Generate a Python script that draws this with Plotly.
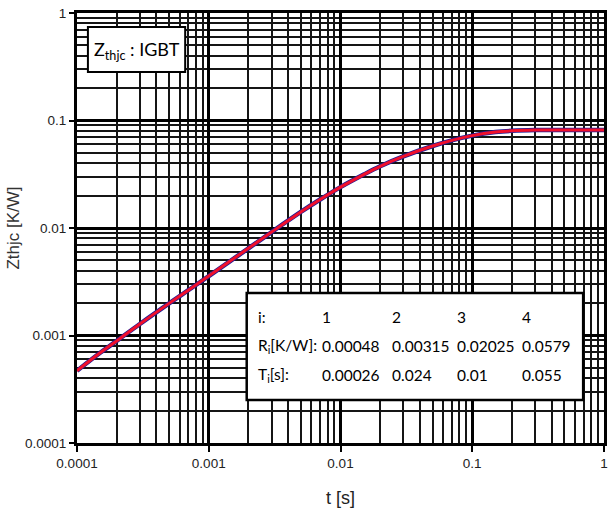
import plotly.graph_objects as go

# ---- data ----
t_s = [1e-4, 1.5e-4, 2e-4, 3e-4, 5e-4, 7e-4, 1e-3, 1.5e-3, 2e-3, 3e-3, 5e-3, 7e-3,
       1e-2, 1.5e-2, 2e-2, 3e-2, 5e-2, 7e-2, 0.1, 0.15, 0.2, 0.3, 0.5, 1.0]
zthjc = [0.00047, 0.00069, 0.00089, 0.00128, 0.00199, 0.00264, 0.00357, 0.00506,
         0.00647, 0.00917, 0.0141, 0.0184, 0.0240, 0.0314, 0.0375, 0.0463, 0.0579,
         0.0654, 0.0723, 0.0780, 0.0802, 0.0815, 0.0817, 0.0818]

x_tickvals = [0.0001, 0.001, 0.01, 0.1, 1]
x_ticktext = ["0.0001", "0.001", "0.01", "0.1", "1"]
y_tickvals = [0.0001, 0.001, 0.01, 0.1, 1]
y_ticktext = ["0.0001", "0.001", "0.01", "0.1", "1"]

table_index = ["1", "2", "3", "4"]
table_R = ["0.00048", "0.00315", "0.02025", "0.0579"]
table_T = ["0.00026", "0.024", "0.01", "0.055"]
row_labels = ["i:", "R<sub>i</sub>[K/W]:", "T<sub>i</sub>[s]:"]
title_label = "Z<sub>thjc</sub> : IGBT"

# ---- layout geometry (pixels) ----
W, H = 613, 513
L, R, T, B = 77, 5, 13, 70
PW, PH = W - L - R, H - T - B


def px(x):
    return (x - L) / PW


def py(y):
    return (H - B - y) / PH


TICKF = "Liberation Sans, Arial"
TABLE_FONT = "Lato, Liberation Sans"

fig = go.Figure()
fig.add_trace(go.Scatter(x=t_s, y=zthjc, mode="lines", line=dict(color="#1c1c96", width=4.5, shape="spline"),
                         hoverinfo="skip", showlegend=False))
fig.add_trace(go.Scatter(x=t_s, y=zthjc, mode="lines", line=dict(color="#f0102c", width=3, shape="spline"),
                         showlegend=False))

axis_common = dict(
    type="log",
    showline=True, linecolor="black", linewidth=3, mirror=True,
    showgrid=True, gridcolor="black", gridwidth=2.6,
    minor=dict(showgrid=True, gridcolor="#151515", gridwidth=1.6, dtick="D1", ticks=""),
    zeroline=False,
    tickfont=dict(family=TICKF, size=13.5, color="#222"),
)

fig.update_xaxes(**axis_common, range=[-4, 0], tickmode="array", tickvals=x_tickvals, ticktext=x_ticktext,
                 ticks="outside", ticklen=6, tickwidth=2, tickcolor="black",
                 title=dict(text="t [s]", font=dict(family=TICKF, size=18, color="#222"), standoff=22))
fig.update_yaxes(**axis_common, range=[-4, 0], tickmode="array", tickvals=y_tickvals, ticktext=y_ticktext,
                 ticks="outside", ticklen=5, tickwidth=2, tickcolor="black",
                 title=dict(text="Zthjc [K/W]", font=dict(family=TICKF, size=17, color="#333"),
                            standoff=2))

shapes = []
annotations = []

# Z_thjc label box
shapes.append(dict(type="rect", xref="paper", yref="paper", x0=px(88), x1=px(186), y0=py(72), y1=py(27),
                   fillcolor="white", line=dict(color="black", width=2), layer="above"))
annotations.append(dict(xref="paper", yref="paper", x=px(137), y=py(50), text=title_label, showarrow=False,
                        xanchor="center", yanchor="middle", font=dict(family=TABLE_FONT, size=18, color="black")))

# parameter table box
shapes.append(dict(type="rect", xref="paper", yref="paper", x0=px(248), x1=px(587), y0=py(400), y1=py(293),
                   fillcolor="white", line=dict(color="black", width=2.5), layer="above"))
row_y = [317, 346, 375]
col_x = [322, 392, 458, 523]
for lbl, yy in zip(row_labels, row_y):
    annotations.append(dict(xref="paper", yref="paper", x=px(257), y=py(yy), text=lbl, showarrow=False,
                            xanchor="left", yanchor="middle", font=dict(family=TABLE_FONT, size=15.5, color="black")))
for rowvals, yy in zip([table_index, table_R, table_T], row_y):
    for v, xx in zip(rowvals, col_x):
        annotations.append(dict(xref="paper", yref="paper", x=px(xx), y=py(yy), text=v, showarrow=False,
                                xanchor="left", yanchor="middle",
                                font=dict(family=TABLE_FONT, size=15.5, color="black")))

fig.update_layout(
    width=W, height=H,
    margin=dict(l=L, r=R, t=T, b=B),
    paper_bgcolor="white", plot_bgcolor="white",
    shapes=shapes, annotations=annotations,
    showlegend=False,
)

fig.write_html("out.html")
